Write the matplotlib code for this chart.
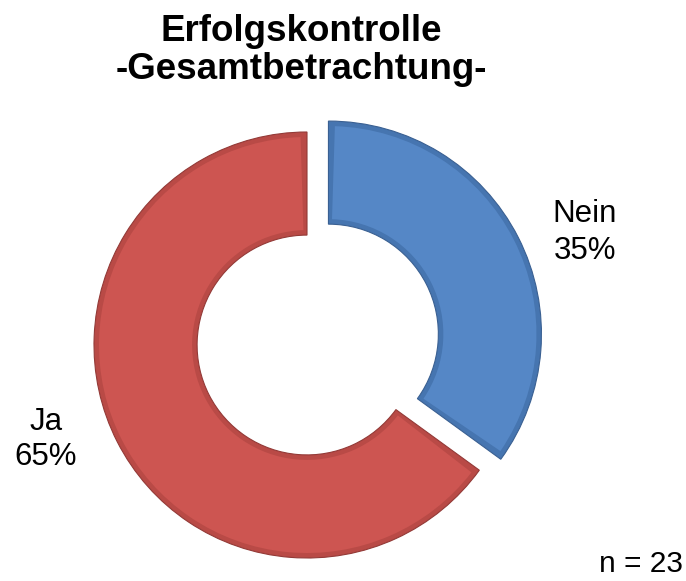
import matplotlib
matplotlib.use("Agg")
import matplotlib.pyplot as plt
from matplotlib.patches import Wedge

categories = ["Nein", "Ja"]
values = [35, 65]
percent_labels = ["35%", "65%"]
title_lines = ["Erfolgskontrolle", "-Gesamtbetrachtung-"]
n_text = "n = 23"

colors = ["#5587C6", "#CD5551"]
rim_colors = ["#4675B0", "#B94A46"]
edge_colors = ["#3A6092", "#933A37"]

plt.rcParams["font.family"] = ["Liberation Sans", "DejaVu Sans"]

W, H = 686, 581
fig = plt.figure(figsize=(W / 100, H / 100), dpi=100)
ax = fig.add_axes([0, 0, 1, 1])
ax.axis("off")

R = 213
ring = R * 0.484
cx, cy = 307, H - 345
wedges, _ = ax.pie(values, startangle=90, counterclock=False, colors=rim_colors,
                   explode=[0.113 * R, 0], radius=R, center=(cx, cy),
                   wedgeprops=dict(width=ring, linewidth=0.8))
for w, ec, fc in zip(wedges, edge_colors, colors):
    w.set_edgecolor(ec)
    inset = 5.0
    rmid = w.r - w.width / 2
    dtheta = inset / rmid * 180 / 3.141592653589793
    inner = Wedge(w.center, w.r - inset, w.theta1 + dtheta, w.theta2 - dtheta,
                  width=w.width - 2 * inset, facecolor=fc, edgecolor="none")
    ax.add_patch(inner)

ax.set_xlim(0, W)
ax.set_ylim(0, H)
ax.set_aspect("equal")

# title
ax.text(301, H - 41, title_lines[0], ha="center", va="baseline",
        fontsize=26.5, fontweight="bold")
ax.text(301, H - 79, title_lines[1], ha="center", va="baseline",
        fontsize=26.5, fontweight="bold")

# labels
ax.text(585, H - 222, categories[0], ha="center", va="baseline", fontsize=22.5)
ax.text(585, H - 259, percent_labels[0], ha="center", va="baseline", fontsize=22.5)
ax.text(46, H - 430, categories[1], ha="center", va="baseline", fontsize=22.5)
ax.text(46, H - 465, percent_labels[1], ha="center", va="baseline", fontsize=22.5)

ax.text(683, H - 572, n_text, ha="right", va="baseline", fontsize=21.5)

fig.savefig("out.png", dpi=100)
